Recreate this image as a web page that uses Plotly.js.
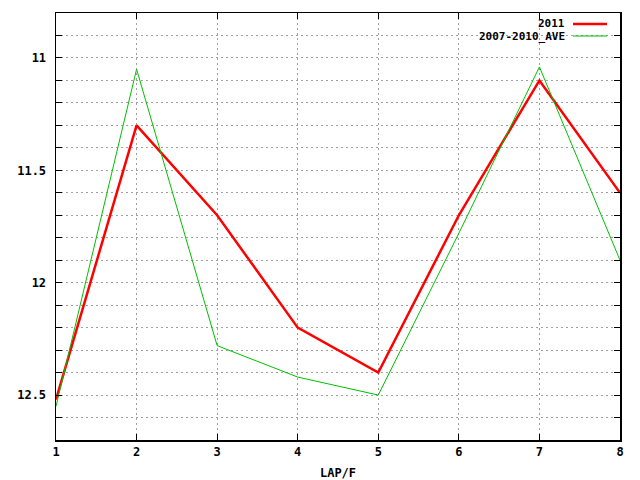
<!DOCTYPE html>
<html>
<head>
<meta charset="utf-8">
<script src="https://cdn.plot.ly/plotly-3.0.1.min.js"></script>
<style>html,body{margin:0;padding:0;background:#fff;}#chart{width:640px;height:480px;}</style>
</head>
<body>
<div id="chart"></div>
<script>
const laps = [1, 2, 3, 4, 5, 6, 7, 8];
const series2011 = [12.52, 11.30, 11.70, 12.20, 12.40, 11.70, 11.10, 11.60];
const seriesAve = [12.55, 11.05, 12.28, 12.42, 12.50, 11.78, 11.04, 11.90];
const seriesNames = ["2011", "2007-2010_AVE"];
const yTickVals = [10.8, 10.9, 11.0, 11.1, 11.2, 11.3, 11.4, 11.5, 11.6, 11.7, 11.8, 11.9, 12.0, 12.1, 12.2, 12.3, 12.4, 12.5, 12.6, 12.7];
const yTickText = ["", "", "11", "", "", "", "", "11.5", "", "", "", "", "12", "", "", "", "", "12.5", "", ""];
const xTitle = "LAP/F";

const font = {family: "DejaVu Sans Mono, Liberation Mono, monospace", size: 12, color: "#000", weight: "bold"};
const legFont = {family: "DejaVu Sans Mono, Liberation Mono, monospace", size: 11, color: "#000", weight: "bold"};

const traces = [
  {x: laps, y: series2011, type: "scatter", mode: "lines", name: seriesNames[0], line: {color: "#ff0000", width: 2.5}, showlegend: false},
  {x: laps, y: seriesAve, type: "scatter", mode: "lines", name: seriesNames[1], line: {color: "#00c000", width: 1}, showlegend: false}
];

const layout = {
  width: 640, height: 480,
  margin: {l: 56, r: 20, t: 13, b: 40},
  paper_bgcolor: "#fff", plot_bgcolor: "#fff",
  font: font,
  showlegend: false,
  xaxis: {
    range: [1, 8], tickvals: laps, ticktext: laps.map(String),
    ticks: "inside", ticklen: 6, tickcolor: "#000", mirror: "ticks",
    showline: true, linecolor: "#000", linewidth: 1.5,
    showgrid: true, gridcolor: "#a0a0a0", griddash: "2px,3px", gridwidth: 1,
    zeroline: false, tickfont: font,
    title: {text: xTitle, font: font, standoff: 12}
  },
  yaxis: {
    range: [12.7, 10.8], tickvals: yTickVals, ticktext: yTickText,
    ticks: "inside", ticklen: 6, tickcolor: "#000", mirror: "ticks",
    showline: true, linecolor: "#000", linewidth: 1.5,
    showgrid: true, gridcolor: "#a0a0a0", griddash: "2px,3px", gridwidth: 1,
    zeroline: false, tickfont: font, ticklabelstandoff: 6
  },
  annotations: [
    {xref: "paper", yref: "paper", x: (566 - 56) / 564, y: (440 - 23) / 427, xanchor: "right", yanchor: "middle", text: seriesNames[0], showarrow: false, font: legFont, borderpad: 0},
    {xref: "paper", yref: "paper", x: (566 - 56) / 564, y: (440 - 37) / 427, xanchor: "right", yanchor: "middle", text: seriesNames[1], showarrow: false, font: legFont, borderpad: 0}
  ],
  shapes: [
    {type: "line", xref: "paper", yref: "paper", x0: (573 - 56) / 564, x1: (607 - 56) / 564, y0: (440 - 24) / 427, y1: (440 - 24) / 427, line: {color: "#ff0000", width: 2.5}},
    {type: "line", xref: "paper", yref: "paper", x0: (573 - 56) / 564, x1: (607 - 56) / 564, y0: (440 - 36) / 427, y1: (440 - 36) / 427, line: {color: "#00c000", width: 1}}
  ]
};

Plotly.newPlot("chart", traces, layout, {displayModeBar: false, staticPlot: true});
</script>
</body>
</html>
